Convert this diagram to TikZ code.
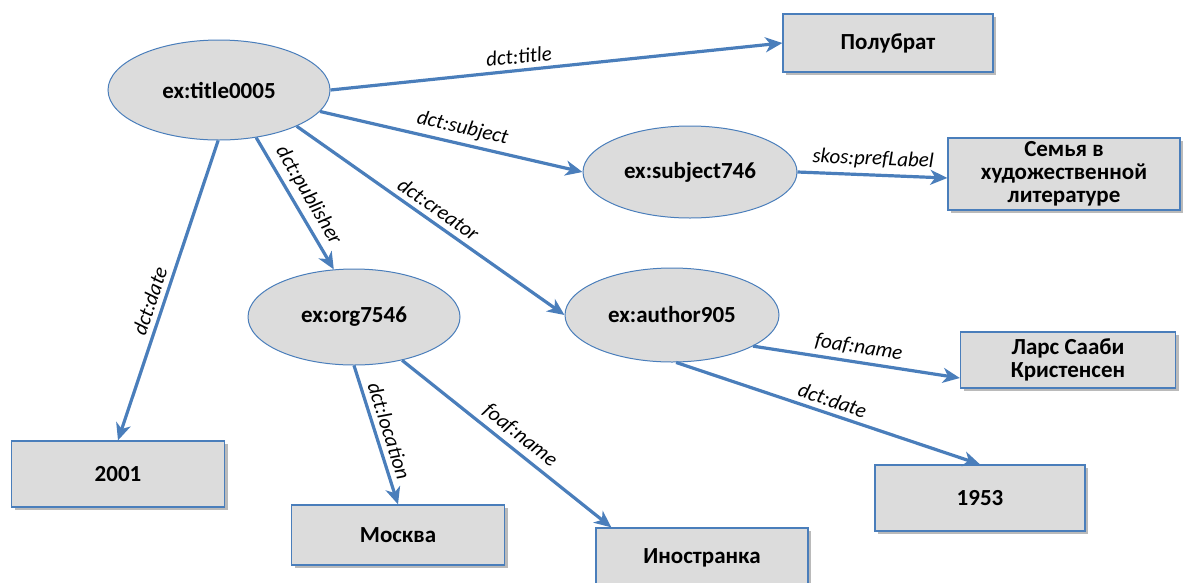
\documentclass[tikz,border=0pt]{standalone}
\usepackage{fontspec}
\setmainfont{Carlito}
\usetikzlibrary{shapes.geometric,arrows.meta,shadows,calc}
\definecolor{edgeblue}{HTML}{4A7EBB}
\definecolor{nodefill}{HTML}{DCDCDC}
\begin{document}
\begin{tikzpicture}[x=1pt,y=-1pt,
  res/.style={ellipse,draw=edgeblue,line width=1pt,fill=nodefill,inner sep=0pt,
    font=\fontsize{23}{24}\selectfont\bfseries},
  lit/.style={rectangle,draw=edgeblue,line width=1.3pt,fill=nodefill,inner sep=0pt,
    align=center,font=\fontsize{23}{23}\selectfont\bfseries,
    drop shadow={shadow xshift=3pt,shadow yshift=-3pt,fill=black!45,opacity=0.6}},
  rel/.style={draw=edgeblue,line width=3.2pt,-{Stealth[length=17pt,width=15pt,inset=5pt]}},
  lab/.style={font=\fontsize{21}{22}\selectfont\itshape,sloped,above=5pt,inner sep=0pt}
]
\useasboundingbox (0,0) rectangle (1190,582);

% resources
\node[res,minimum width=222pt,minimum height=100pt] (t) at (219,90) {ex:title0005};
\node[res,minimum width=214pt,minimum height=92pt] (s) at (690,172) {ex:subject746};
\node[res,minimum width=212pt,minimum height=96pt] (o) at (354,317) {ex:org7546};
\node[res,minimum width=214pt,minimum height=94pt] (a) at (672,315) {ex:author905};

% literals
\node[lit,minimum width=210pt,minimum height=58pt] (p) at (888,43) {Полубрат};
\node[lit,minimum width=232pt,minimum height=72pt] (sem) at (1064,174) {Семья в\\художественной\\литературе};
\node[lit,minimum width=215pt,minimum height=56pt] (l) at (1068,360) {Ларс Сааби\\Кристенсен};
\node[lit,minimum width=213pt,minimum height=66pt] (d2001) at (118,474) {2001};
\node[lit,minimum width=210pt,minimum height=66pt] (d1953) at (980,498) {1953};
\node[lit,minimum width=213pt,minimum height=60pt] (m) at (398,535) {Москва};
\node[lit,minimum width=212pt,minimum height=60pt] (i) at (702,558) {Иностранка};

% relations
\draw[rel] (t.east) -- node[lab,pos=0.42] {dct:title} (p.west);
\draw[rel] (t.-12) -- node[lab,pos=0.53] {dct:subject} (s.west);
\draw[rel] (t.-25) -- node[lab,pos=0.5] {dct:creator} (a.west);
\draw[rel] (t.-52) -- node[lab,pos=0.5] {dct:publisher} (o.113);
\draw[rel] (t.-91) -- node[lab,pos=0.55] {dct:date} (d2001.north);
\draw[rel] (s.east) -- node[lab,pos=0.5] {skos:prefLabel} ($(sem.west)+(0,4)$);
\draw[rel] (o.south) -- node[lab,pos=0.5] {dct:location} (m.north);
\draw[rel] (o.-42) -- node[lab,pos=0.52] {foaf:name} ($(i.north west)+(16,0)$);
\draw[rel] (a.-21) -- node[lab,pos=0.5] {foaf:name} ($(l.west)+(0,18)$);
\draw[rel] (a.-85) -- node[lab,pos=0.5] {dct:date} (d1953.north);
\end{tikzpicture}
\end{document}
